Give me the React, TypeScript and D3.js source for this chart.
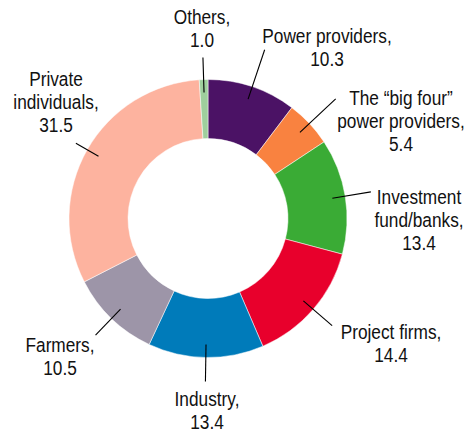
import React from "react";
import * as d3 from "d3";

const categories = [
  "Power providers",
  "The \u201cbig four\u201d power providers",
  "Investment fund/banks",
  "Project firms",
  "Industry",
  "Farmers",
  "Private individuals",
  "Others",
];
const values = [10.3, 5.4, 13.4, 14.4, 13.4, 10.5, 31.5, 1.0];
const labelLines = [
  ["Power providers,", "10.3"],
  ["The \u201cbig four\u201d", "power providers,", "5.4"],
  ["Investment", "fund/banks,", "13.4"],
  ["Project firms,", "14.4"],
  ["Industry,", "13.4"],
  ["Farmers,", "10.5"],
  ["Private", "individuals,", "31.5"],
  ["Others,", "1.0"],
];
const colors = ["#4b1265", "#f98240", "#3aab35", "#e8002c", "#007bba", "#9d95a8", "#fdb39f", "#9fcf9d"];

// layout (text anchor center x, first baseline y; leader outer radius)
const labelPos = [
  [327, 43],
  [401, 105],
  [419, 204],
  [391, 339],
  [207, 406],
  [60, 352],
  [56, 86],
  [202, 24],
];
const leaderOuter = [178, 175, 165, 164, 163, 162, 152, 161];

const W = 469;
const H = 433;
const cx = 208;
const cy = 218.5;
const rOuter = 139;
const rInner = 80;
const lineH = 23;

export default function App() {
  const pie = d3.pie<number>().sort(null).value((d) => d)(values);
  const arc = d3.arc<d3.PieArcDatum<number>>().innerRadius(rInner).outerRadius(rOuter);
  const font = "'Liberation Sans', Arial, sans-serif";
  return (
    <div style={{ position: "absolute", left: 0, top: 0 }}>
      <svg width={W} height={H} style={{ display: "block", background: "#fff" }}>
        <g transform={`translate(${cx},${cy})`}>
          {pie.map((p, i) => (
            <path key={categories[i]} d={arc(p) || ""} fill={colors[i]} stroke="#fff" strokeWidth={0.5} />
          ))}
          {pie.map((p, i) => {
            const a = (p.startAngle + p.endAngle) / 2;
            const r1 = 126;
            const r2 = leaderOuter[i];
            return (
              <line
                key={"l" + i}
                x1={Math.sin(a) * r1}
                y1={-Math.cos(a) * r1}
                x2={Math.sin(a) * r2}
                y2={-Math.cos(a) * r2}
                stroke="#000"
                strokeWidth={1.1}
              />
            );
          })}
        </g>
        {labelLines.map((lines, i) => (
          <g key={"t" + i} transform={`translate(${labelPos[i][0]},${labelPos[i][1]}) scale(0.885,1)`}>
            <text textAnchor="middle" fontFamily={font} fontSize={19.5} fill="#111">
              {lines.map((s, j) => (
                <tspan key={j} x={0} y={j * lineH}>
                  {s}
                </tspan>
              ))}
            </text>
          </g>
        ))}
      </svg>
    </div>
  );
}
